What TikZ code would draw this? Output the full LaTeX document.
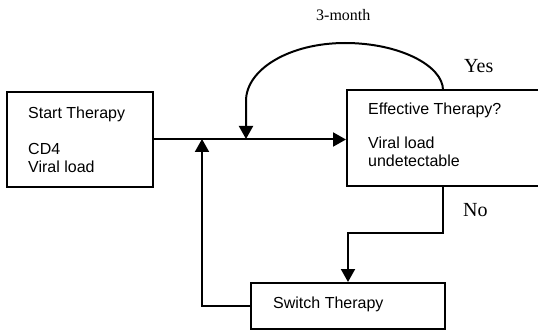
\documentclass[tikz,border=0pt]{standalone}
\usepackage{fontspec}
\setmainfont{Liberation Sans}
\newfontfamily\labelserif{Liberation Serif}
\usetikzlibrary{arrows.meta}
\begin{document}
\begin{tikzpicture}[x=1pt,y=-1pt,
  box/.style={draw, line width=2pt, rectangle, inner sep=0pt},
  boxtext/.style={anchor=base west, inner sep=0pt, font=\fontsize{16}{18}\selectfont},
  link/.style={line width=2pt},
  flow/.style={link, -{Triangle[length=13pt,width=14pt]}},
  tag/.style={anchor=base west, inner sep=0pt, font=\labelserif\fontsize{20}{24}\selectfont},
  note/.style={anchor=base west, inner sep=0pt, font=\labelserif\fontsize{16}{19}\selectfont}]
\clip (0,0) rectangle (538,331);

% boxes
\node[box, minimum width=146pt, minimum height=95pt] (start) at (80,139.5) {};
\node[box, minimum width=213pt, minimum height=96pt] (eff) at (453.5,138) {};
\node[box, minimum width=194pt, minimum height=46pt] (sw) at (348,306) {};

% box texts
\node[boxtext] (t1) at (28,119) {Start Therapy};
\node[boxtext] (t2) at (28,155) {CD4};
\node[boxtext] (t3) at (28,173) {Viral load};
\node[boxtext] (e1) at (368,115) {Effective Therapy?};
\node[boxtext] (e2) at (368,149) {Viral load};
\node[boxtext] (e3) at (368,167) {undetectable};
\node[boxtext] (s1) at (273,308) {Switch Therapy};

% branch labels
\node[tag] (yes) at (464,73) {Yes};
\node[tag] (no) at (463,217) {No};
\node[note] (month) at (316,21) {3-month};

% junction points
\coordinate (out) at (443,90);
\coordinate (loopin) at (246,139);
\coordinate (back) at (202,139);

% main line
\draw[flow] (start.east) -- (start.east -| eff.west);

% 3-month loop back onto the main line
\draw[flow] (out) .. controls (443,66) and (400,43) .. (345,43)
  .. controls (290,43) and (246,69) .. (246,101) -- (loopin);

% not effective: switch therapy
\draw[flow] (eff.south -| out) -- (443,233) -| (sw.north);

% switched therapy rejoins the main line
\draw[flow] (sw.west) -| (back);
\end{tikzpicture}
\end{document}
